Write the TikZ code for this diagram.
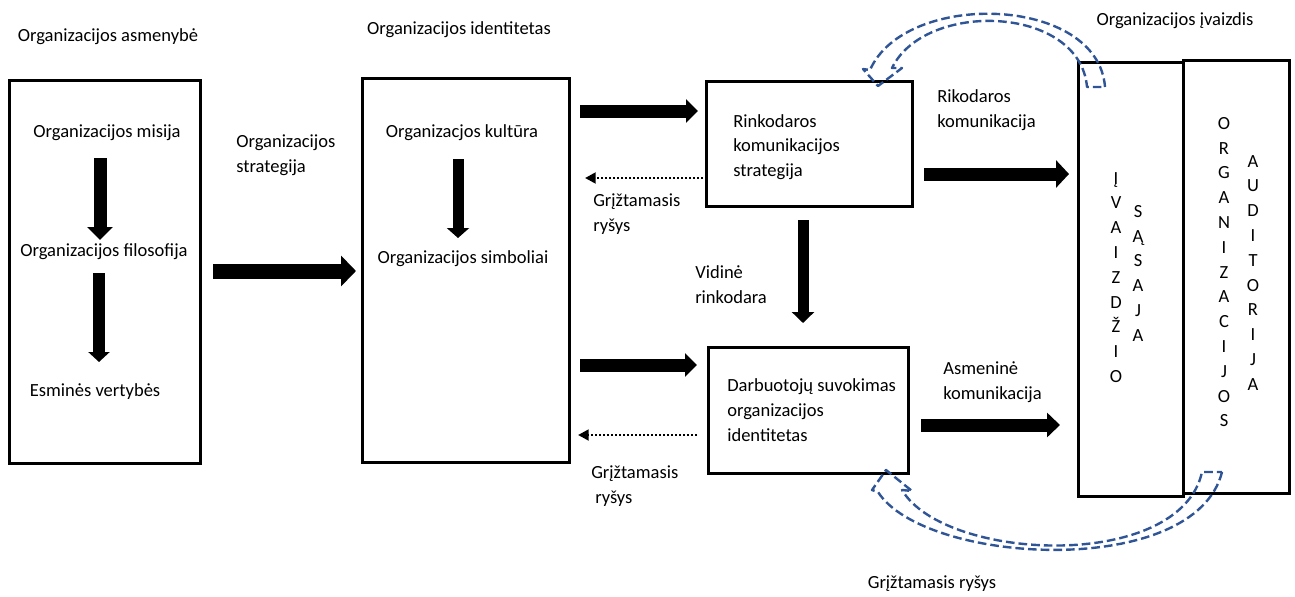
\documentclass[tikz,border=0pt]{standalone}
\usepackage{fontspec}
\setmainfont{Carlito}
\usetikzlibrary{arrows.meta}
\definecolor{dblue}{HTML}{2F5597}
\begin{document}
\begin{tikzpicture}[x=0.75pt,y=-0.75pt,
  txt/.style={font=\fontsize{13.9pt}{18.6pt}\selectfont, inner sep=0pt},
  box/.style={draw, line width=2.25pt, inner sep=0pt, rectangle},
  barrow/.style n args={3}{line width=#1, -{Triangle[length=#3,width=#2]}},
  fbarrow/.style={line width=2pt, dash pattern=on 1.6pt off 1.4pt, -{Triangle[length=8pt,width=8pt]}},
  curv/.style={draw=dblue, line width=1.8pt, dash pattern=on 6.5pt off 3pt, line join=round}]
\useasboundingbox (0,0) rectangle (1295,596);

% boxes
\node[box, minimum width={191*0.75pt}, minimum height={383*0.75pt}] (A) at (104.5,271.5) {};
\node[box, minimum width={207*0.75pt}, minimum height={384*0.75pt}] (B) at (465.5,270) {};
\node[box, minimum width={206*0.75pt}, minimum height={125*0.75pt}] (C) at (809,143.5) {};
\node[box, minimum width={200*0.75pt}, minimum height={126*0.75pt}] (D) at (808,410) {};
\node[box, minimum width={105*0.75pt}, minimum height={434*0.75pt}] (E) at (1130.5,279) {};
\node[box, minimum width={106*0.75pt}, minimum height={433*0.75pt}] (F) at (1236,276.5) {};

% texts
\node[txt] (tA) at (108,37) {Organizacijos asmenybė};
\node[txt] (mis) at (107,133) {Organizacijos misija};
\node[txt] (fil) at (104,252) {Organizacijos filosofija};
\node[txt] (esm) at (95,392) {Esminės vertybės};
\node[txt, align=left, anchor=west] (strat) at (236,155.5) {Organizacijos\\strategija};
\node[txt] (tB) at (459,30) {Organizacijos identitetas};
\node[txt] (kult) at (462,133) {Organizacjos kultūra};
\node[txt] (simb) at (463,259) {Organizacijos simboliai};
\node[txt, align=left, anchor=west] (fb1) at (593,214) {Grįžtamasis\\ryšys};
\node[txt, align=left, anchor=west] (fb2) at (591,486.5) {Grįžtamasis\\\hspace*{3pt}ryšys};
\node[txt, align=left, anchor=west] (tC) at (733,147) {Rinkodaros\\komunikacijos\\strategija};
\node[txt, align=left, anchor=west] (tD) at (727,410) {Darbuotojų suvokimas\\organizacijos\\identitetas};
\node[txt, align=left, anchor=west] (rk) at (937,110.5) {Rikodaros\\komunikacija};
\node[txt, align=left, anchor=west] (vr) at (695,284.5) {Vidinė\\rinkodara};
\node[txt, align=left, anchor=west] (ak) at (943,382.5) {Asmeninė\\komunikacija};
\node[txt] (tE) at (1175,21) {Organizacijos įvaizdis};
\node[txt] (fb3) at (932,584) {Grįžtamasis ryšys};
\node[txt, align=center, anchor=north] (e1) at (1116,172) {Į\\V\\A\\I\\Z\\D\\Ž\\I\\O};
\node[txt, align=center, anchor=north] (e2) at (1138,205) {S\\Ą\\S\\A\\J\\A};
\node[txt, align=center, anchor=north] (f1) at (1224,117) {O\\R\\G\\A\\N\\I\\Z\\A\\C\\I\\J\\O\\S};
\node[txt, align=center, anchor=north] (f2) at (1253,155) {A\\U\\D\\I\\T\\O\\R\\I\\J\\A};

% arrow end points
\coordinate (a1s) at (100,158); \coordinate (a1e) at (100,240);
\coordinate (a2s) at (99,273);  \coordinate (a2e) at (99,362);
\coordinate (a3s) at (213,271); \coordinate (a3e) at (356,271);
\coordinate (a4s) at (458,159); \coordinate (a4e) at (458,238);
\coordinate (a5s) at (580,111); \coordinate (a5e) at (698,111);
\coordinate (a6s) at (703,178); \coordinate (a6e) at (585,178);
\coordinate (a7s) at (580,365); \coordinate (a7e) at (697,365);
\coordinate (a8s) at (697,435); \coordinate (a8e) at (578,435);
\coordinate (a9s) at (924,174); \coordinate (a9e) at (1069,174);
\coordinate (a10s) at (803,220); \coordinate (a10e) at (803,323);
\coordinate (a11s) at (921,425); \coordinate (a11e) at (1060,425);

\draw[barrow={9.75pt}{18.75pt}{9.75pt}] (a1s) -- (a1e);
\draw[barrow={9pt}{15.75pt}{7.5pt}] (a2s) -- (a2e);
\draw[barrow={11.25pt}{22.5pt}{11.25pt}] (a3s) -- (a3e);
\draw[barrow={8.25pt}{16.5pt}{7.5pt}] (a4s) -- (a4e);
\draw[barrow={9.75pt}{17.25pt}{9pt}] (a5s) -- (a5e);
\draw[fbarrow] (a6s) -- (a6e);
\draw[barrow={9.75pt}{17.25pt}{9pt}] (a7s) -- (a7e);
\draw[fbarrow] (a8s) -- (a8e);
\draw[barrow={9.75pt}{20.25pt}{9.75pt}] (a9s) -- (a9e);
\draw[barrow={8.25pt}{16.5pt}{8.25pt}] (a10s) -- (a10e);
\draw[barrow={9.75pt}{18pt}{9.75pt}] (a11s) -- (a11e);

% curved hollow dashed arrows
\draw[curv] (1105,87) .. controls (1098,-5) and (905,-10) .. (870,70) -- (863,69) -- (878,86) -- (902,68) -- (892,68) .. controls (925,0) and (1080,5) .. (1087,87) -- cycle;
\draw[curv] (1222,472) .. controls (1195,580) and (925,565) .. (878,492) -- (872,490) -- (886,470) -- (912,491) -- (902,490) .. controls (945,562) and (1180,572) .. (1202,472) -- cycle;
\end{tikzpicture}
\end{document}
